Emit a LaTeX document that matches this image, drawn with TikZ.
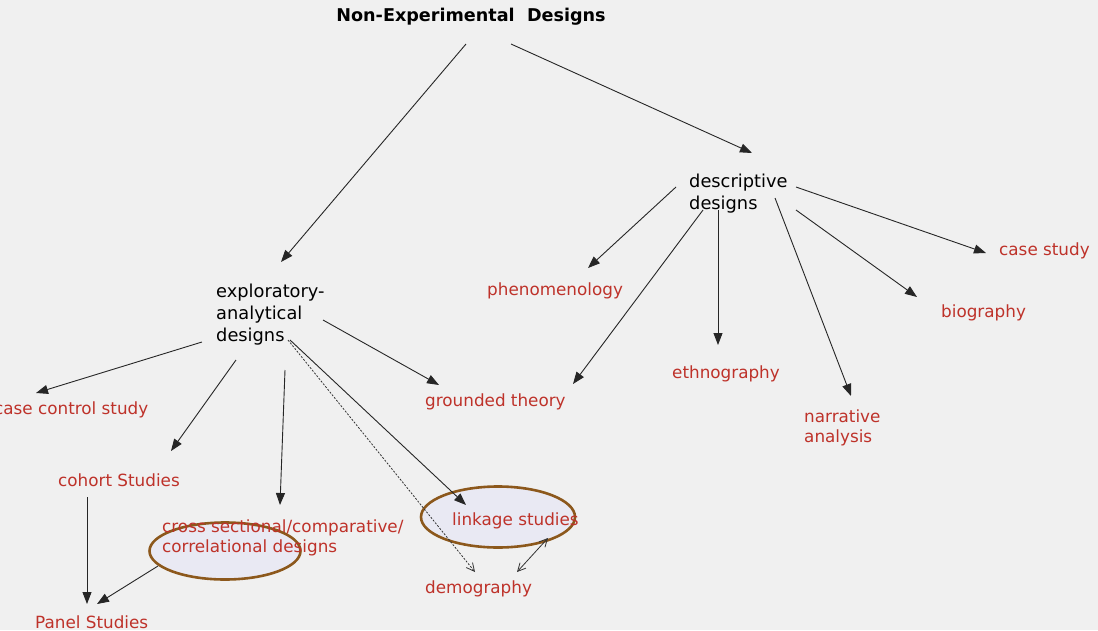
\documentclass[tikz,border=0pt]{standalone}
\usepackage{fontspec}
\setmainfont{DejaVu Sans}
\usetikzlibrary{arrows.meta,calc,shapes.geometric}
\definecolor{bg}{RGB}{240,240,240}
\definecolor{lbl}{RGB}{190,50,42}
\definecolor{ring}{RGB}{140,88,28}
\definecolor{ringfill}{RGB}{233,233,243}
\tikzset{
  red/.style={inner sep=0pt, text=lbl, font=\fontsize{16.8}{20}\selectfont, align=left},
  blk/.style={inner sep=0pt, text=black, font=\fontsize{17.8}{22}\selectfont, align=left},
  arr/.style={draw=black!85, line width=0.9pt, -{Triangle[length=12pt,width=9pt]}},
  dasharr/.style={draw=black!80, line width=0.8pt, dash pattern=on 2pt off 1.5pt, -{Straight Barb[length=8pt,width=8pt]}},
  duoarr/.style={draw=black!80, line width=0.8pt, {Straight Barb[length=8pt,width=8pt]}-{Straight Barb[length=8pt,width=8pt]}},
  ringstyle/.style={ellipse, draw=ring, line width=2.6pt, fill=ringfill, inner sep=0pt}
}
\begin{document}
\begin{tikzpicture}[x=1pt,y=-1pt]
\useasboundingbox (0,0) rectangle (1098,630);
\fill[bg] (0,0) rectangle (1098,630);
% highlight ellipses
\node[ringstyle, minimum width=151pt, minimum height=57pt] (ell1) at (225,551) {};
\node[ringstyle, minimum width=154pt, minimum height=61pt] (ell2) at (498,517) {};
% nodes
\node[inner sep=0pt, font=\bfseries\fontsize{17.6}{20}\selectfont] (title) at (471,17) {Non-Experimental\ \ Designs};
\node[blk, anchor=west] (expl) at (216,315) {exploratory-\\analytical\\designs};
\node[blk, anchor=west] (desc) at (689,194) {descriptive\\designs};
\node[red, anchor=west] (casectl) at (-6,410) {case control study};
\node[red, anchor=west] (cohort) at (58,480) {cohort Studies};
\node[red, anchor=west] (cross) at (162,538) {cross sectional/comparative/\\correlational designs};
\node[red, anchor=west] (panel) at (35,622) {Panel Studies};
\node[red, anchor=west] (grounded) at (425,402) {grounded theory};
\node[red, anchor=west] (linkage) at (452,521) {linkage studies};
\node[red, anchor=west] (demog) at (425,589) {demography};
\node[red, anchor=west] (phen) at (487,291) {phenomenology};
\node[red, anchor=west] (ethno) at (672,374) {ethnography};
\node[red, anchor=west] (narr) at (804,428) {narrative\\analysis};
\node[red, anchor=west] (bio) at (941,313) {biography};
\node[red, anchor=west] (case) at (999,251) {case study};
% connectors
\draw[arr] ($(title)+(-5,27)$) -- ($(expl.west)+(65,-53)$);
\draw[arr] ($(title)+(40,27)$) -- ($(desc.west)+(63,-41)$);
\draw[arr] ($(desc.west)+(-13,-7)$) -- ($(phen.west)+(101,-23)$);
\draw[arr] ($(desc.west)+(14,16)$) -- ($(grounded.west)+(148,-18)$);
\draw[arr] ($(desc.west)+(29,16)$) -- ($(ethno.west)+(46,-29)$);
\draw[arr] ($(desc.west)+(86,4)$) -- ($(narr.west)+(47,-32)$);
\draw[arr] ($(desc.west)+(107,16)$) -- ($(bio.west)+(-24,-16)$);
\draw[arr] ($(desc.west)+(107,-7)$) -- ($(case.west)+(-13,2)$);
\draw[arr] ($(expl.west)+(-14,27)$) -- ($(casectl.west)+(42,-17)$);
\draw[arr] ($(expl.west)+(20,45)$) -- ($(cohort.west)+(113,-29)$);
\draw[arr] ($(expl.west)+(69,55)$) -- ($(cross.west)+(118,-33)$);
\draw[arr] ($(expl.west)+(107,5)$) -- ($(grounded.west)+(14,-17)$);
\draw[arr] ($(expl.west)+(74,25)$) -- ($(linkage.west)+(14,-16)$);
\draw[dasharr] ($(expl.west)+(72,25)$) -- ($(demog.west)+(50,-17)$);
\draw[arr] ($(cohort.west)+(29,17)$) -- ($(panel.west)+(52,-18)$);
\draw[arr] ($(ell1)+(-67,15)$) -- ($(panel.west)+(62,-18)$);
\draw[duoarr] ($(ell2)+(50,21)$) -- ($(demog.west)+(92,-17)$);
\end{tikzpicture}
\end{document}
